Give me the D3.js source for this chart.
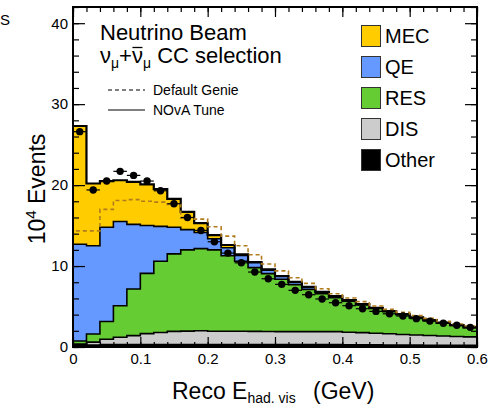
<!DOCTYPE html>
<html>
<head>
<meta charset="utf-8">
<script src="https://cdn.jsdelivr.net/npm/d3@7"></script>
<style>
  body { margin: 0; background: #fff; }
  svg { display: block; }
  text { font-family: "Liberation Sans", Arial, Helvetica, sans-serif; fill: #000; }
</style>
</head>
<body>
<svg id="chart" width="502" height="408"></svg>
<script>
// Lower edges of the 0.02 GeV bins of visible hadronic energy
const binLow = [0.00, 0.02, 0.04, 0.06, 0.08, 0.10, 0.12, 0.14, 0.16, 0.18,
                0.20, 0.22, 0.24, 0.26, 0.28, 0.30, 0.32, 0.34, 0.36, 0.38,
                0.40, 0.42, 0.44, 0.46, 0.48, 0.50, 0.52, 0.54, 0.56, 0.58];
const binWidth = 0.02;

// NOvA-tune prediction, split by interaction mode (10^4 events per bin)
const otherEv = [0.20, 0.25, 0.30, 0.30, 0.30, 0.30, 0.30, 0.30, 0.30, 0.30,
                 0.30, 0.30, 0.30, 0.30, 0.30, 0.30, 0.30, 0.30, 0.30, 0.30,
                 0.28, 0.27, 0.26, 0.25, 0.24, 0.23, 0.22, 0.21, 0.20, 0.20];
const disEv   = [0.15, 0.35, 0.65, 0.90, 1.10, 1.35, 1.50, 1.63, 1.66, 1.70,
                 1.65, 1.65, 1.65, 1.63, 1.62, 1.60, 1.60, 1.60, 1.60, 1.60,
                 1.54, 1.51, 1.44, 1.39, 1.31, 1.25, 1.20, 1.14, 1.10, 1.05];
const resEv   = [0.40, 1.00, 2.20, 3.90, 5.76, 7.45, 8.80, 9.57, 10.04, 10.15,
                 10.05, 9.32, 8.65, 7.87, 7.15, 6.46, 5.80, 5.22, 4.68, 4.19,
                 3.83, 3.40, 3.05, 2.72, 2.44, 2.12, 1.85, 1.60, 1.36, 1.15];
const qeEv    = [11.95, 10.90, 11.65, 10.40, 7.99, 5.90, 4.30, 3.30, 2.50, 2.00,
                 1.37, 0.99, 0.70, 0.60, 0.43, 0.34, 0.30, 0.28, 0.22, 0.18,
                 0.12, 0.10, 0.08, 0.07, 0.06, 0.05, 0.05, 0.04, 0.03, 0.02];
const mecEv   = [14.60, 7.70, 5.70, 5.10, 5.25, 5.10, 4.60, 3.50, 2.20, 1.15,
                 0.46, 0.34, 0.15, 0.10, 0.10, 0.07, 0.05, 0.03, 0.02, 0.01,
                 0.03, 0.02, 0.02, 0.02, 0.02, 0.01, 0.01, 0.01, 0.01, 0.01];

// Total prediction with the default GENIE model
const defaultGenie = [14.35, 14.35, 17.0, 18.1, 18.2, 18.0, 17.9, 17.6, 15.9, 15.8,
                      14.85, 13.7, 12.5, 11.4, 10.25, 9.4, 8.56, 7.86, 7.2, 6.57,
                      6.05, 5.6, 5.06, 4.65, 4.28, 3.87, 3.54, 3.17, 2.84, 2.6];

// Selected data (10^4 events per bin)
const dataEv = [26.6, 19.4, 20.5, 21.7, 21.2, 20.5, 19.3, 17.7, 16.0, 14.4,
                13.0, 11.6, 10.4, 9.26, 8.43, 7.74, 7.0, 6.46, 5.93, 5.47,
                5.1, 4.73, 4.4, 4.1, 3.83, 3.5, 3.2, 2.93, 2.68, 2.43];

const modeKeys   = ["Other", "DIS", "RES", "QE", "MEC"];
const modeColors = {MEC: "#ffcc00", QE: "#6699ff", RES: "#66cc33", DIS: "#cccccc", Other: "#000000"};
const legendOrder = ["MEC", "QE", "RES", "DIS", "Other"];

const xMajor = [0, 0.1, 0.2, 0.3, 0.4, 0.5, 0.6];
const yMajor = [0, 10, 20, 30, 40];

const svg = d3.select("#chart");
const x = d3.scaleLinear().domain([0, 0.6]).range([73, 477]);
const y = d3.scaleLinear().domain([0, 42]).range([347, 7]);

// ---- stacked prediction ----
const rows = binLow.map((lo, i) => ({
  lo, Other: otherEv[i], DIS: disEv[i], RES: resEv[i], QE: qeEv[i], MEC: mecEv[i]
}));
const stacked = d3.stack().keys(modeKeys)(rows);

// step points: every bin's lower edge plus the closing upper edge
function stepPoints(layer) {
  const pts = layer.map(d => ({x: d.data.lo, y0: d[0], y1: d[1]}));
  const last = layer[layer.length - 1];
  pts.push({x: last.data.lo + binWidth, y0: last[0], y1: last[1]});
  return pts;
}

const area = d3.area().curve(d3.curveStepAfter)
  .x(d => x(d.x)).y0(d => y(d.y0)).y1(d => y(d.y1));
const topLine = d3.line().curve(d3.curveStepAfter)
  .x(d => x(d.x)).y(d => y(d.y1));

const gPlot = svg.append("g");
stacked.forEach(layer => {
  gPlot.append("path")
    .attr("d", area(stepPoints(layer)))
    .attr("fill", modeColors[layer.key]);
});
stacked.forEach((layer, i) => {
  gPlot.append("path")
    .attr("d", topLine(stepPoints(layer)))
    .attr("fill", "none")
    .attr("stroke", "#000")
    .attr("stroke-width", i === stacked.length - 1 ? 2.2 : 1.6);
});

// ---- default GENIE total (dashed) ----
const genPts = [[0, 0]];
binLow.forEach((lo, i) => { genPts.push([lo, defaultGenie[i]]); genPts.push([lo + binWidth, defaultGenie[i]]); });
genPts.push([0.6, 0]);
gPlot.append("path")
  .attr("d", d3.line().x(d => x(d[0])).y(d => y(d[1]))(genPts))
  .attr("fill", "none")
  .attr("stroke", "#b07c1e")
  .attr("stroke-width", 1.6)
  .attr("stroke-dasharray", "4,3");

// ---- data points ----
const gData = svg.append("g");
binLow.forEach((lo, i) => {
  gData.append("line")
    .attr("x1", x(lo)).attr("x2", x(lo + binWidth))
    .attr("y1", y(dataEv[i])).attr("y2", y(dataEv[i]))
    .attr("stroke", "#000").attr("stroke-width", 1.2);
  gData.append("circle")
    .attr("cx", x(lo + binWidth / 2)).attr("cy", y(dataEv[i]))
    .attr("r", 3.7).attr("fill", "#000");
});

// ---- axes: inward ticks on all four sides ----
const xMinor = d3.range(0, 0.6001, 0.02).map(v => +v.toFixed(2));
const yMinor = d3.range(0, 42.001, 2);

function styleAxis(g) {
  g.select(".domain").remove();
  g.selectAll(".tick line").attr("stroke", "#000").attr("stroke-width", 1.2);
  g.selectAll("text").style("font-size", "15px").attr("fill", "#000");
}

svg.append("g").attr("transform", "translate(0,347)")
  .call(d3.axisBottom(x).tickValues(xMinor).tickSize(-5).tickFormat(""))
  .call(styleAxis);
svg.append("g").attr("transform", "translate(0,347)")
  .call(d3.axisBottom(x).tickValues(xMajor).tickSize(-10).tickPadding(6)
        .tickFormat(d => d === 0 ? "0" : d3.format(".1f")(d)))
  .call(styleAxis);
svg.append("g").attr("transform", "translate(0,7)")
  .call(d3.axisTop(x).tickValues(xMinor).tickSize(-5).tickFormat(""))
  .call(styleAxis);
svg.append("g").attr("transform", "translate(0,7)")
  .call(d3.axisTop(x).tickValues(xMajor).tickSize(-10).tickFormat(""))
  .call(styleAxis);

svg.append("g").attr("transform", "translate(73,0)")
  .call(d3.axisLeft(y).tickValues(yMinor).tickSize(-6).tickFormat(""))
  .call(styleAxis);
svg.append("g").attr("transform", "translate(73,0)")
  .call(d3.axisLeft(y).tickValues(yMajor).tickSize(-12).tickPadding(5))
  .call(styleAxis);
svg.append("g").attr("transform", "translate(477,0)")
  .call(d3.axisRight(y).tickValues(yMinor).tickSize(-6).tickFormat(""))
  .call(styleAxis);
svg.append("g").attr("transform", "translate(477,0)")
  .call(d3.axisRight(y).tickValues(yMajor).tickSize(-12).tickFormat(""))
  .call(styleAxis);

// frame
svg.append("rect")
  .attr("x", x(0)).attr("y", y(42))
  .attr("width", x(0.6) - x(0)).attr("height", y(0) - y(42))
  .attr("fill", "none").attr("stroke", "#000").attr("stroke-width", 2);

// ---- axis titles ----
const xt = svg.append("text").attr("x", 172).attr("y", 399).style("font-size", "23px");
xt.append("tspan").text("Reco E");
xt.append("tspan").attr("dy", 4).style("font-size", "14px").text("had. vis");
svg.append("text").attr("x", 313).attr("y", 399).style("font-size", "23px").text("(GeV)");

const yt = svg.append("text")
  .attr("transform", "translate(45,189) rotate(-90)")
  .attr("text-anchor", "middle")
  .style("font-size", "23px");
yt.append("tspan").text("10");
yt.append("tspan").attr("dy", -9).style("font-size", "15px").text("4");
yt.append("tspan").attr("dy", 9).text(" Events");

// corner fragment of a label
svg.append("text").attr("x", 0).attr("y", 25).style("font-size", "15px").text("S");

// ---- sample description ----
svg.append("text").attr("x", 100).attr("y", 40).style("font-size", "22px").text("Neutrino Beam");
const sel = svg.append("text").attr("x", 100).attr("y", 63).style("font-size", "22px");
sel.append("tspan").text("\u03bd");
sel.append("tspan").attr("dy", 5).style("font-size", "14px").text("\u03bc");
sel.append("tspan").attr("dy", -5).text("+\u03bd");
sel.append("tspan").attr("dy", 5).style("font-size", "14px").text("\u03bc");
sel.append("tspan").attr("dy", -5).text(" CC selection");
// bar over the antineutrino symbol (character index 3)
{
  const node = sel.node();
  const p0 = node.getStartPositionOfChar(3);
  const p1 = node.getEndPositionOfChar(3);
  svg.append("line")
    .attr("x1", p0.x + 0.5).attr("x2", p1.x - 0.5)
    .attr("y1", 63 - 15.5).attr("y2", 63 - 15.5)
    .attr("stroke", "#000").attr("stroke-width", 1.3);
}

// line-style legend
const styleLegend = [
  {label: "Default Genie", dash: "4,3", yPos: 90},
  {label: "NOvA Tune", dash: null, yPos: 110}
];
styleLegend.forEach(s => {
  svg.append("line")
    .attr("x1", 108).attr("x2", 145).attr("y1", s.yPos).attr("y2", s.yPos)
    .attr("stroke", "#000").attr("stroke-width", 1.2)
    .attr("stroke-dasharray", s.dash);
  svg.append("text").attr("x", 153).attr("y", s.yPos + 5)
    .style("font-size", "14px").text(s.label);
});

// interaction-mode legend
legendOrder.forEach((k, i) => {
  const top = 25 + i * 31;
  svg.append("rect")
    .attr("x", 361.5).attr("y", top + 0.5).attr("width", 19).attr("height", 21)
    .attr("fill", modeColors[k]).attr("stroke", "#333").attr("stroke-width", 1);
  svg.append("text").attr("x", 385).attr("y", top + 18)
    .style("font-size", "20px").text(k);
});
</script>
</body>
</html>
